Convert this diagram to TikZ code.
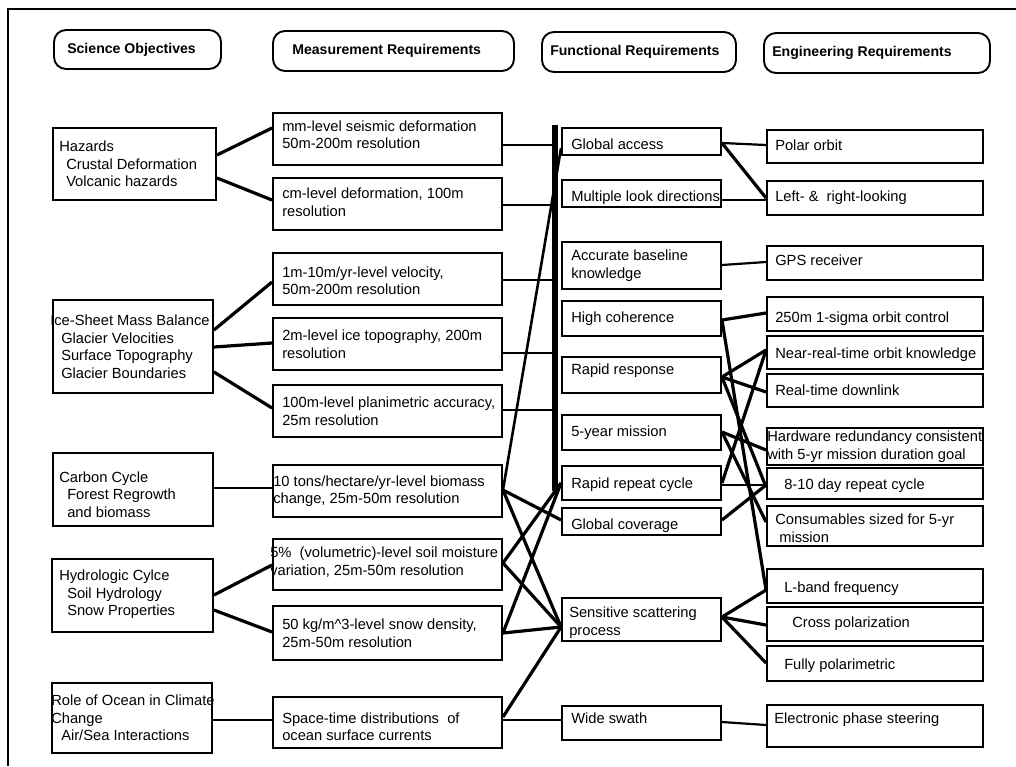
\documentclass[tikz,border=0pt]{standalone}
\usepackage{fontspec}
\setmainfont{Liberation Sans}
\usetikzlibrary{calc}

% box with left-aligned text: [text up-shift]{name}{x1}{y1}{x2}{y2}{text inset}{text}
\newcommand\mkbox[8][0]{%
  \pgfmathsetmacro\bxw{#5-#3}%
  \pgfmathsetmacro\bxh{#6-#4}%
  \node[box, minimum width=\bxw pt, minimum height=\bxh pt] (#2) at ({(#3+#5)/2},{(#4+#6)/2}) {};
  \node[txt, anchor=west] (#2-t) at ([xshift=#7pt, yshift=#1pt]#2.west) {#8};%
}
% rounded column heading
\newcommand\mkhead[7]{%
  \pgfmathsetmacro\bxw{#4-#2}%
  \pgfmathsetmacro\bxh{#5-#3}%
  \node[head, minimum width=\bxw pt, minimum height=\bxh pt] (#1) at ({(#2+#4)/2},{(#3+#5)/2}) {};
  \node[htxt, anchor=west] (#1-t) at ([xshift=#6pt]#1.west) {#7};%
}
% connector from the east side of one box to the west side of another
\newcommand\lnk[5][thick line]{\draw[#1] ([yshift=#3pt]#2.east) -- ([yshift=#5pt]#4.west);}

\begin{document}
\begin{tikzpicture}[x=1pt,y=-1pt,
  box/.style={draw, line width=1.9pt, inner sep=0pt},
  head/.style={draw, line width=1.9pt, rounded corners=12pt, inner sep=0pt},
  txt/.style={inner sep=0pt, align=left, font=\fontsize{14.7}{17.5}\selectfont},
  htxt/.style={inner sep=0pt, font=\bfseries\fontsize{14.1}{16}\selectfont},
  thick line/.style={line width=3.2pt},
  mid line/.style={line width=2.2pt},
  thin line/.style={line width=1.4pt}]

\useasboundingbox (0,0) rectangle (1016,766);
\fill[white] (0,0) rectangle (1016,766);

% page frame
\draw[line width=1.8pt] (1016,9) -- (8,9) -- (8,766);

% column headings
\mkhead{hs}{54}{30}{221}{69}{14}{Science Objectives}
\mkhead{hm}{273}{31}{514}{71}{20}{Measurement Requirements}
\mkhead{hf}{542}{32}{736}{72}{9}{Functional Requirements}
\mkhead{he}{764}{33}{990}{73}{9}{Engineering Requirements}

% science objectives
\mkbox{sH}{53}{128}{216}{200}{7}{Hazards\\\hspace*{7pt}Crustal Deformation\\\hspace*{7pt}Volcanic hazards}
\mkbox{sI}{53}{300}{213}{393}{-2}{Ice-Sheet Mass Balance\\\hspace*{11pt}Glacier Velocities\\\hspace*{11pt}Surface Topography\\\hspace*{11pt}Glacier Boundaries}
\mkbox[-5]{sC}{53}{453}{213}{526}{7}{Carbon Cycle\\\hspace*{8pt}Forest Regrowth\\\hspace*{8pt}and biomass}
\mkbox[1]{sHy}{52}{559}{213}{632}{8}{Hydrologic Cylce\\\hspace*{8pt}Soil Hydrology\\\hspace*{8pt}Snow Properties}
\mkbox{sO}{52}{683}{212}{753}{0}{Role of Ocean in Climate\\Change\\\hspace*{10pt}Air/Sea Interactions}

% measurement requirements
\mkbox[4.5]{m1}{273}{113}{502}{165}{10}{mm-level seismic deformation\\50m-200m resolution}
\mkbox[2]{m2}{273}{178}{502}{230}{10}{cm-level deformation, 100m\\resolution}
\mkbox[-1.5]{m3}{273}{253}{502}{305}{10}{1m-10m/yr-level velocity,\\50m-200m resolution}
\mkbox{m4}{273}{318}{502}{370}{10}{2m-level ice topography, 200m\\resolution}
\mkbox{m5}{273}{385}{502}{437}{10}{100m-level planimetric accuracy,\\25m resolution}
\mkbox{m6}{273}{465}{502}{517}{1}{10 tons/hectare/yr-level biomass\\change, 25m-50m resolution}
\mkbox[2.5]{m7}{273}{539}{502}{590}{-2}{5\%\ \ (volumetric)-level soil moisture\\variation, 25m-50m resolution}
\mkbox{m8}{273}{606}{502}{660}{10}{50 kg/m\textasciicircum 3-level snow density,\\25m-50m resolution}
\mkbox[-4]{m9}{273}{697}{502}{748}{10}{Space-time distributions\ \ of\\ocean surface currents}

% functional requirements
\mkbox[-3]{f1}{562}{128}{721}{155}{10}{Global access}
\mkbox[-4]{f2}{562}{180}{721}{207}{10}{Multiple look directions}
\mkbox{f3}{562}{242}{721}{289}{10}{Accurate baseline\\knowledge}
\mkbox{f4}{562}{301}{721}{336}{10}{High coherence}
\mkbox[4]{f5}{562}{357}{721}{393}{10}{Rapid response}
\mkbox{f6}{562}{415}{721}{450}{10}{5-year mission}
\mkbox[-2]{f7}{562}{466}{721}{500}{10}{Rapid repeat cycle}
\mkbox[-4]{f8}{562}{508}{721}{535}{10}{Global coverage}
\mkbox[-3]{f9}{562}{598}{721}{641}{8}{Sensitive scattering\\process}
\mkbox[5]{f10}{562}{706}{721}{740}{10}{Wide swath}

% engineering requirements
\mkbox[1]{e1}{767}{130}{983}{163}{9}{Polar orbit}
\mkbox{e2}{767}{181}{983}{215}{9}{Left-\ \&\ \ right-looking}
\mkbox[3]{e3}{767}{246}{983}{280}{9}{GPS receiver}
\mkbox[-5]{e4}{767}{297}{983}{331}{9}{250m 1-sigma orbit control}
\mkbox[-2]{e5}{767}{336}{983}{369}{9}{Near-real-time orbit knowledge}
\mkbox{e6}{767}{374}{983}{407}{9}{Real-time downlink}
\mkbox{e7}{767}{428}{983}{465}{1}{Hardware redundancy consistent\\with 5-yr mission duration goal}
\mkbox[-2]{e8}{767}{468}{983}{499}{18}{8-10 day repeat cycle}
\mkbox[-2]{e9}{767}{506}{983}{546}{9}{Consumables sized for 5-yr\\\hspace*{4pt}mission}
\mkbox[-3]{e10}{767}{569}{983}{603}{18}{L-band frequency}
\mkbox{e11}{767}{607}{983}{641}{26}{Cross polarization}
\mkbox[-2]{e12}{767}{646}{983}{681}{18}{Fully polarimetric}
\mkbox[6]{e13}{767}{705}{983}{747}{8}{Electronic phase steering}

% science -> measurement
\lnk{sH}{9}{m1}{11}
\lnk{sH}{-14}{m2}{4}
\lnk{sI}{16.5}{m3}{-3}
\lnk{sI}{-0.5}{m4}{1}
\lnk{sI}{-25.5}{m5}{3}
\lnk[thin line]{sC}{1.5}{m6}{3}
\lnk{sHy}{0.5}{m7}{-0.5}
\lnk{sHy}{-14.5}{m8}{1}
\lnk[thin line]{sO}{-2}{m9}{2.5}

% common bus feeding the functional column
\node[fill=black, inner sep=0pt, minimum width=6pt, minimum height=366pt] (bus) at (555,308) {};
\coordinate (m1o) at ([yshift=-6pt]m1.east);
\coordinate (m2o) at ([yshift=-1pt]m2.east);
\coordinate (m3o) at ([yshift=-1pt]m3.east);
\coordinate (m4o) at ([yshift=-9pt]m4.east);
\coordinate (m5o) at ([yshift=1pt]m5.east);
\foreach \p in {m1o,m2o,m3o,m4o,m5o}
  \draw[thin line] (\p) -- (\p -| bus.west);

% measurement -> functional
\lnk[line width=2.6pt]{m6}{1}{f1}{-6.5}
\lnk{m6}{1}{f8}{1.5}
\lnk{m6}{1}{f9}{-7.5}
\lnk{m7}{1.5}{f7}{0}
\lnk{m7}{1.5}{f9}{-7.5}
\lnk{m8}{0}{f7}{0}
\lnk{m8}{0}{f9}{-7.5}
\lnk{m9}{5.5}{f9}{-7.5}
\lnk[thin line]{m9}{2.5}{f10}{3}

% functional -> engineering
\lnk[mid line]{f1}{-1.5}{e1}{1.5}
\lnk{f1}{-1.5}{e2}{0}
\lnk[thin line]{f2}{-6.5}{e2}{-2}
\lnk[mid line]{f3}{0.5}{e3}{1}
\lnk{f4}{-1.5}{e4}{1}
\lnk{f4}{-1.5}{e10}{-4}
\lnk{f5}{-2}{e5}{2.5}
\lnk{f5}{-2}{e6}{-1.5}
\lnk{f5}{-2}{e8}{-3.5}
\lnk{f6}{0.5}{e7}{-3.5}
\lnk{f6}{0.5}{e9}{4}
\lnk{f7}{0}{e5}{2.5}
\lnk[mid line]{f7}{-2}{e8}{-1.5}
\lnk{f8}{1.5}{e8}{-1.5}
\lnk{f9}{2.5}{e10}{-4}
\lnk{f9}{2.5}{e11}{-1}
\lnk{f9}{2.5}{e12}{0.5}
\lnk[mid line]{f10}{1}{e13}{1}

\end{tikzpicture}
\end{document}
